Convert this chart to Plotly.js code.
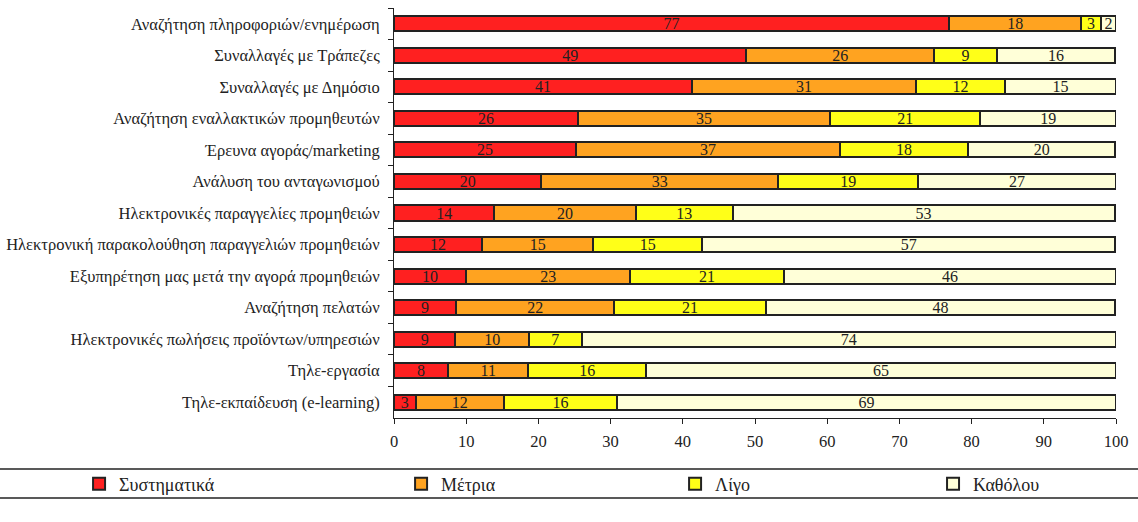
<!DOCTYPE html>
<html>
<head>
<meta charset="utf-8">
<script src="https://cdn.plot.ly/plotly-3.0.1.min.js"></script>
<style>html,body{margin:0;padding:0;background:#fff;}#chart{width:1138px;height:522px;}</style>
</head>
<body>
<div id="chart"></div>
<script>
const categories = [
  "Αναζήτηση πληροφοριών/ενημέρωση",
  "Συναλλαγές με Τράπεζες",
  "Συναλλαγές με Δημόσιο",
  "Αναζήτηση εναλλακτικών προμηθευτών",
  "Έρευνα αγοράς/marketing",
  "Ανάλυση του ανταγωνισμού",
  "Ηλεκτρονικές παραγγελίες προμηθειών",
  "Ηλεκτρονική παρακολούθηση παραγγελιών προμηθειών",
  "Εξυπηρέτηση μας μετά την αγορά προμηθειών",
  "Αναζήτηση πελατών",
  "Ηλεκτρονικές πωλήσεις προϊόντων/υπηρεσιών",
  "Τηλε-εργασία",
  "Τηλε-εκπαίδευση (e-learning)"
];
const seriesNames = ["Συστηματικά", "Μέτρια", "Λίγο", "Καθόλου"];
const systematika = [76.9, 48.8, 41.3, 25.5, 25.2, 20.4, 13.9, 12.2, 10.0, 8.6, 8.5, 7.5, 3.0];
const metria      = [18.3, 26.0, 31.0, 34.9, 36.6, 32.8, 19.6, 15.4, 22.7, 21.9, 10.2, 11.1, 12.2];
const ligo        = [2.7, 8.7, 12.3, 20.8, 17.7, 19.4, 13.4, 15.1, 21.3, 21.0, 7.3, 16.3, 15.7];
const katholou    = [2.1, 16.4, 15.4, 18.8, 20.4, 27.4, 52.9, 57.2, 46.0, 48.4, 74.0, 65.1, 69.1];
const xTicks = [0, 10, 20, 30, 40, 50, 60, 70, 80, 90, 100];

const colors = ["#FF2020", "#FFA320", "#FFFF18", "#FFFFD8"];
const seriesValues = [systematika, metria, ligo, katholou];
const FONT = "Liberation Serif";
const legendX = [-0.4362, 0.0098, 0.3893, 0.7466];
const legendIds = ["legend", "legend2", "legend3", "legend4"];

const traces = seriesValues.map((vals, i) => ({
  type: "bar",
  orientation: "h",
  name: seriesNames[i],
  y: categories,
  x: vals,
  text: vals.map(v => String(Math.round(v))),
  textposition: "inside",
  insidetextanchor: "middle",
  textangle: 0,
  constraintext: "none",
  insidetextfont: {family: FONT, size: 16, color: "#222"},
  marker: {color: colors[i], line: {color: "#222", width: 2}},
  hoverinfo: "x+y+name",
  legend: legendIds[i]
}));

const legendBase = (x) => ({
  x: x, y: -0.161, xref: "paper", yref: "paper",
  xanchor: "left", yanchor: "middle",
  orientation: "h", bgcolor: "rgba(0,0,0,0)",
  font: {family: FONT, size: 18, color: "#222"},
  itemwidth: 30, borderwidth: 0
});

const layout = {
  width: 1138, height: 522,
  margin: {l: 394, r: 22, t: 8, b: 104, autoexpand: false},
  barmode: "stack",
  bargap: 0.52,
  paper_bgcolor: "#fff",
  plot_bgcolor: "#fff",
  font: {family: FONT, size: 16, color: "#222"},
  showlegend: true,
  xaxis: {
    range: [0, 100], tickvals: xTicks, ticktext: xTicks.map(String),
    showgrid: false, zeroline: false,
    showline: true, linecolor: "#222", linewidth: 1,
    ticks: "outside", ticklen: 5, tickcolor: "#222", tickwidth: 1,
    ticklabelstandoff: 3,
    tickfont: {family: FONT, size: 16.5, color: "#222"},
    automargin: false, fixedrange: true
  },
  yaxis: {
    autorange: "reversed", type: "category",
    showgrid: false, zeroline: false,
    showline: true, linecolor: "#222", linewidth: 1,
    ticks: "outside", tickson: "boundaries", ticklen: 5, tickcolor: "#222", tickwidth: 1,
    ticklabelstandoff: 10,
    tickfont: {family: FONT, size: 16.5, color: "#222"},
    automargin: false, fixedrange: true
  },
  legend: legendBase(legendX[0]),
  legend2: legendBase(legendX[1]),
  legend3: legendBase(legendX[2]),
  legend4: legendBase(legendX[3]),
  shapes: [
    {type: "line", xref: "paper", yref: "paper", x0: -0.5457, x1: 1.0305, y0: -0.1244, y1: -0.1244, line: {color: "#222", width: 1.5}},
    {type: "line", xref: "paper", yref: "paper", x0: -0.5457, x1: 1.0305, y0: -0.1951, y1: -0.1951, line: {color: "#222", width: 1.5}}
  ]
};

Plotly.newPlot("chart", traces, layout, {displayModeBar: false});
</script>
</body>
</html>
